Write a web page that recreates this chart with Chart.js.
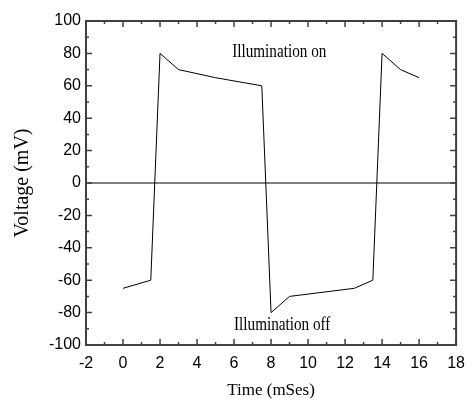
<!DOCTYPE html>
<html lang="en">
<head>
    <meta charset="UTF-8">
    <title>Voltage vs Time</title>
    <style>
        body { margin: 0; background: #fff; }
        canvas { display: block; }
    </style>
</head>
<body>
    <canvas id="grafico" width="474" height="401"></canvas>

<script src="https://cdn.jsdelivr.net/npm/chart.js"></script>
<script>
// dados
const tempo = [0, 1.5, 2, 3, 5, 7.5, 8, 9, 12.5, 13.5, 14, 15, 16];
const voltagem = [-65, -60, 80, 70, 65, 60, -80, -70, -65, -60, 80, 70, 65];
const linhaZeroX = [-2, 18];
const linhaZeroY = [0, 0];
const ticksX = [-2, 0, 2, 4, 6, 8, 10, 12, 14, 16, 18];
const ticksY = [-100, -80, -60, -40, -20, 0, 20, 40, 60, 80, 100];
const textos = ['Illumination on', 'Illumination off'];

const pontos = tempo.map((t, i) => ({ x: t, y: voltagem[i] }));
const zero = linhaZeroX.map((t, i) => ({ x: t, y: linhaZeroY[i] }));

// texto estreito (fonte condensada no original)
function textoEstreito(ctx, txt, px, py) {
    ctx.save();
    ctx.translate(px, py);
    ctx.scale(0.8, 1);
    ctx.fillText(txt, 0, 0);
    ctx.restore();
}

// moldura e ticks para dentro, como no original
const moldura = {
    id: 'moldura',
    afterDraw(chart) {
        const { ctx, chartArea: a, scales: { x, y } } = chart;
        ctx.save();
        ctx.strokeStyle = '#404040';
        ctx.lineWidth = 2;
        ctx.strokeRect(a.left, a.top, a.right - a.left, a.bottom - a.top);

        ctx.lineWidth = 1.5;
        ctx.beginPath();
        for (let i = 0; i < ticksX.length; i++) {
            const px = x.getPixelForValue(ticksX[i]);
            ctx.moveTo(px, a.bottom); ctx.lineTo(px, a.bottom - 6);
            ctx.moveTo(px, a.top); ctx.lineTo(px, a.top + 6);
            if (i < ticksX.length - 1) {
                const pm = x.getPixelForValue((ticksX[i] + ticksX[i + 1]) / 2);
                ctx.moveTo(pm, a.bottom); ctx.lineTo(pm, a.bottom - 3);
                ctx.moveTo(pm, a.top); ctx.lineTo(pm, a.top + 3);
            }
        }
        for (let i = 0; i < ticksY.length; i++) {
            const py = y.getPixelForValue(ticksY[i]);
            ctx.moveTo(a.left, py); ctx.lineTo(a.left + 6, py);
            ctx.moveTo(a.right, py); ctx.lineTo(a.right - 6, py);
            if (i < ticksY.length - 1) {
                const pm = y.getPixelForValue((ticksY[i] + ticksY[i + 1]) / 2);
                ctx.moveTo(a.left, pm); ctx.lineTo(a.left + 3, pm);
                ctx.moveTo(a.right, pm); ctx.lineTo(a.right - 3, pm);
            }
        }
        ctx.stroke();

        // anotacoes
        ctx.fillStyle = '#000';
        ctx.font = '19px "Liberation Serif"';
        ctx.textBaseline = 'alphabetic';
        textoEstreito(ctx, textos[0], x.getPixelForValue(5.9), y.getPixelForValue(77.8));
        textoEstreito(ctx, textos[1], x.getPixelForValue(6.0), y.getPixelForValue(-90.7));
        ctx.restore();
    }
};

const ctx = document.getElementById('grafico').getContext('2d');

new Chart(ctx, {
    type: 'scatter',
    data: {
        datasets: [{
            data: pontos,
            showLine: true,
            borderColor: '#000',
            borderWidth: 1,
            pointRadius: 0,
            tension: 0
        }, {
            data: zero,
            showLine: true,
            borderColor: '#000',
            borderWidth: 1,
            pointRadius: 0
        }]
    },
    options: {
        responsive: false,
        animation: false,
        layout: { padding: { top: 21, right: 11, left: 0, bottom: 0 } },
        plugins: {
            legend: { display: false },
            tooltip: { enabled: false }
        },
        scales: {
            x: {
                type: 'linear',
                min: -2,
                max: 18,
                afterBuildTicks: s => { s.ticks = ticksX.map(v => ({ value: v })); },
                afterFit: s => { s.height = 56; },
                grid: { display: false, drawTicks: false },
                border: { display: false },
                ticks: {
                    color: '#000',
                    padding: 9,
                    maxRotation: 0,
                    font: { family: '"Liberation Sans", Arial', size: 16 }
                },
                title: {
                    display: true,
                    text: 'Time (mSes)',
                    color: '#000',
                    padding: { top: 0, bottom: 0 },
                    font: { family: '"Liberation Serif", "Times New Roman"', size: 17 }
                }
            },
            y: {
                type: 'linear',
                min: -100,
                max: 100,
                afterBuildTicks: s => { s.ticks = ticksY.map(v => ({ value: v })); },
                afterFit: s => { s.width = 86; },
                grid: { display: false, drawTicks: false },
                border: { display: false },
                ticks: {
                    color: '#000',
                    padding: 5,
                    font: { family: '"Liberation Sans", Arial', size: 16 }
                },
                title: {
                    display: true,
                    text: 'Voltage (mV)',
                    color: '#000',
                    padding: { top: 11, bottom: 0 },
                    font: { family: '"Liberation Serif", "Times New Roman"', size: 20 }
                }
            }
        }
    },
    plugins: [moldura]
});
</script>
</body>
</html>
